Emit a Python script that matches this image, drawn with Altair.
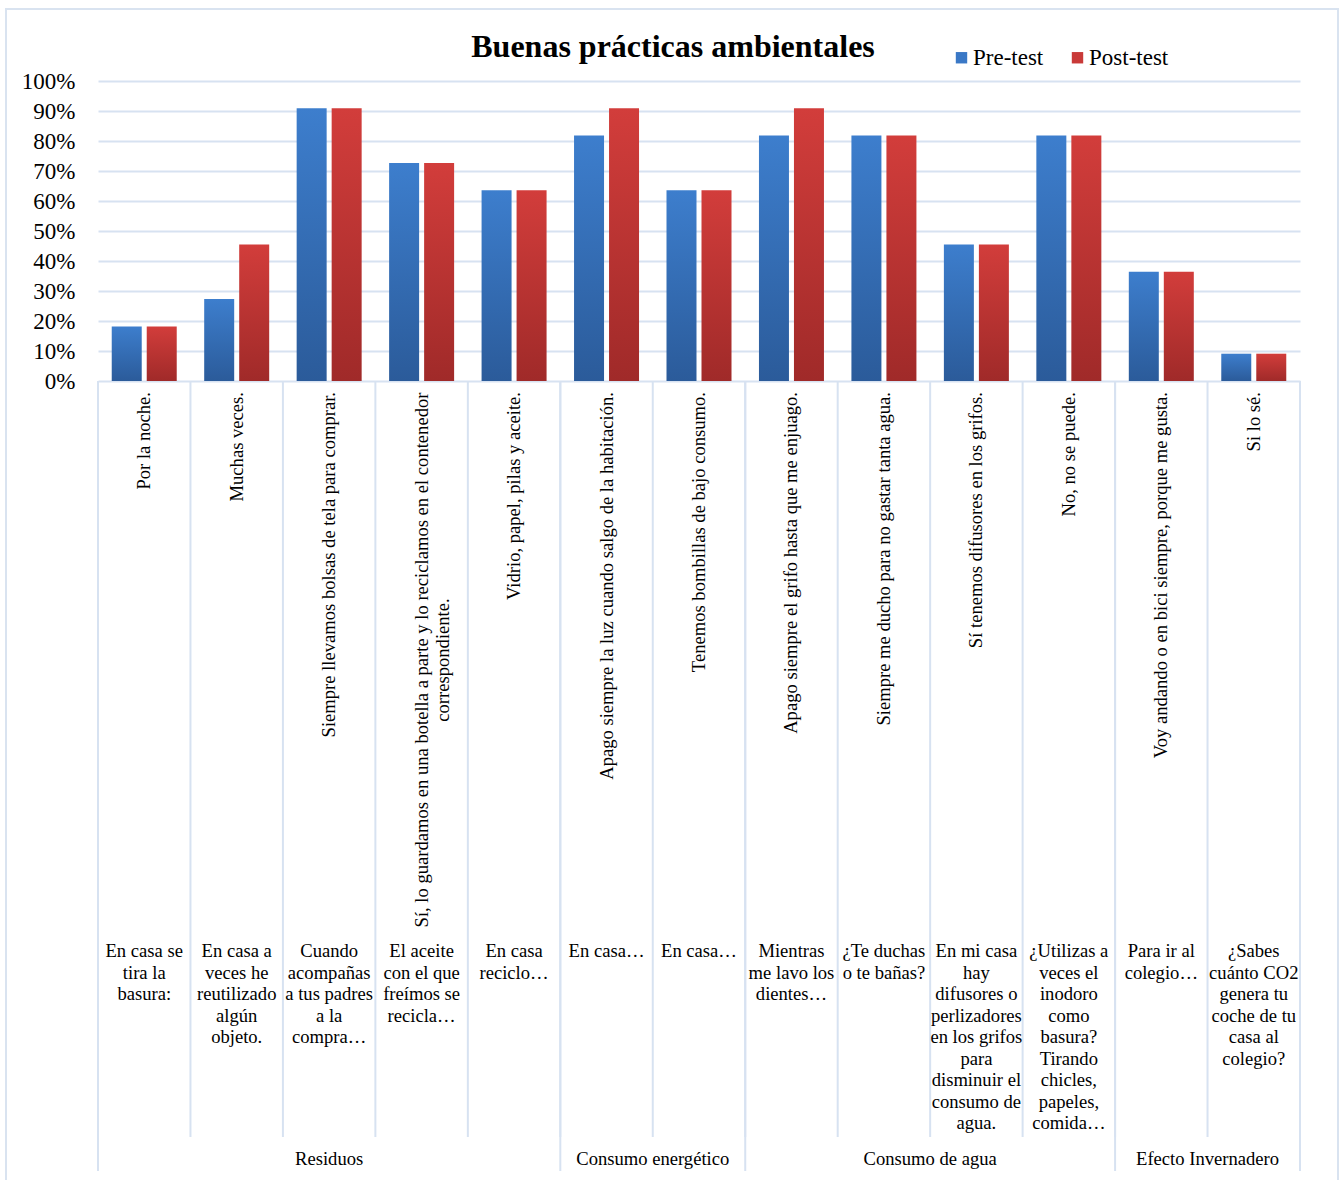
import altair as alt
import pandas as pd

# ---------------- data ----------------
ids = [f"c{i:02d}" for i in range(13)]
groups = ["Residuos"] * 5 + ["Consumo energético"] * 2 + ["Consumo de agua"] * 4 + ["Efecto Invernadero"] * 2
group_order = ["Residuos", "Consumo energético", "Consumo de agua", "Efecto Invernadero"]
questions = [
    "En casa se\ntira la\nbasura:",
    "En casa a\nveces he\nreutilizado\nalgún\nobjeto.",
    "Cuando\nacompañas\na tus padres\na la\ncompra…",
    "El aceite\ncon el que\nfreímos se\nrecicla…",
    "En casa\nreciclo…",
    "En casa…",
    "En casa…",
    "Mientras\nme lavo los\ndientes…",
    "¿Te duchas\no te bañas?",
    "En mi casa\nhay\ndifusores o\nperlizadores\nen los grifos\npara\ndisminuir el\nconsumo de\nagua.",
    "¿Utilizas a\nveces el\ninodoro\ncomo\nbasura?\nTirando\nchicles,\npapeles,\ncomida…",
    "Para ir al\ncolegio…",
    "¿Sabes\ncuánto CO2\ngenera tu\ncoche de tu\ncasa al\ncolegio?",
]
answers = [
    "Por la noche.",
    "Muchas veces.",
    "Siempre llevamos bolsas de tela para comprar.",
    "Sí, lo guardamos en una botella a parte y lo reciclamos en el contenedor\ncorrespondiente.",
    "Vidrio, papel, pilas y aceite.",
    "Apago siempre la luz cuando salgo de la habitación.",
    "Tenemos bombillas de bajo consumo.",
    "Apago siempre el grifo hasta que me enjuago.",
    "Siempre me ducho para no gastar tanta agua.",
    "Sí tenemos difusores en los grifos.",
    "No, no se puede.",
    "Voy andando o en bici siempre, porque me gusta.",
    "Si lo sé.",
]
pre_test = [0.182, 0.273, 0.909, 0.727, 0.636, 0.818, 0.636, 0.818, 0.818, 0.455, 0.818, 0.364, 0.091]
post_test = [0.182, 0.455, 0.909, 0.727, 0.636, 0.909, 0.636, 0.909, 0.818, 0.455, 0.818, 0.364, 0.091]
series = ["Pre-test", "Post-test"]
y_ticks = [0, 0.1, 0.2, 0.3, 0.4, 0.5, 0.6, 0.7, 0.8, 0.9, 1.0]

# ---------------- tables ----------------
n = len(ids)
bars = pd.DataFrame(
    [{"id": ids[i], "serie": series[0], "valor": pre_test[i]} for i in range(n)]
    + [{"id": ids[i], "serie": series[1], "valor": post_test[i]} for i in range(n)]
)
cats = pd.DataFrame({
    "pos": [i + 0.5 for i in range(n)],
    "question": questions,
    "answer": answers,
    "multi": ["\n" in a for a in answers],
})
bounds_inner = pd.DataFrame({"b": list(range(1, n))})
gb = [0]
gmid = []
for g in group_order:
    cnt = groups.count(g)
    gmid.append(gb[-1] + cnt / 2)
    gb.append(gb[-1] + cnt)
bounds_group = pd.DataFrame({"b": gb})
group_lbl = pd.DataFrame({"g": group_order, "mid": gmid})

FONT = "Liberation Serif"
GRID = "#d7e2f1"
FS = 18.6
W, H = 1202, 300


def xq_field(f):
    return alt.X(f"{f}:Q", scale=alt.Scale(domain=[0, n], nice=False, zero=False), axis=None)


xq = xq_field("pos")

blue_grad = alt.Gradient(
    gradient="linear",
    stops=[alt.GradientStop(color="#3d7ecd", offset=0), alt.GradientStop(color="#2b5b9a", offset=1)],
    x1=0, x2=0, y1=0, y2=1,
)
red_grad = alt.Gradient(
    gradient="linear",
    stops=[alt.GradientStop(color="#d23d3b", offset=0), alt.GradientStop(color="#a02a29", offset=1)],
    x1=0, x2=0, y1=0, y2=1,
)

x_band = alt.X("id:N", scale=alt.Scale(domain=ids, paddingInner=0.297, paddingOuter=0.1485), axis=None)
x_off = alt.XOffset("serie:N", scale=alt.Scale(domain=series, paddingInner=0.143, paddingOuter=0))
y_axis = alt.Axis(
    values=y_ticks, format=".0%", title=None, domain=False, ticks=False,
    labelFont=FONT, labelFontSize=23, labelColor="#000000", labelPadding=23,
    gridColor=GRID, gridWidth=2, labelBound=False, labelOverlap=False,
)
y_enc = alt.Y("valor:Q", scale=alt.Scale(domain=[0, 1], nice=False), axis=y_axis)

base_bars = alt.Chart(bars)
pre_layer = base_bars.transform_filter(alt.datum.serie == "Pre-test").mark_bar(color=blue_grad).encode(
    x=x_band, xOffset=x_off, y=y_enc
)
post_layer = base_bars.transform_filter(alt.datum.serie == "Post-test").mark_bar(color=red_grad).encode(
    x=x_band, xOffset=x_off, y=y_enc
)

legend_layer = alt.Chart(pd.DataFrame({"serie": series})).mark_square(opacity=0).encode(
    color=alt.Color(
        "serie:N",
        scale=alt.Scale(domain=series, range=["#3a78c6", "#c93a38"]),
        legend=alt.Legend(
            title=None, orient="none", legendX=852, legendY=-35, direction="horizontal",
            symbolType="square", symbolSize=130, symbolOpacity=1, symbolStrokeWidth=0,
            labelFont=FONT, labelFontSize=23, labelColor="#000000", columnPadding=22,
            labelOffset=0,
        ),
    )
)

inner_rules = alt.Chart(bounds_inner).mark_rule(color=GRID, strokeWidth=2).encode(
    x=xq_field("b"), y=alt.value(H), y2=alt.value(1137 - 81)
)
group_rules = alt.Chart(bounds_group).mark_rule(color=GRID, strokeWidth=2).encode(
    x=xq_field("b"), y=alt.value(H), y2=alt.value(1171 - 81)
)

answer_single = alt.Chart(cats).transform_filter(~alt.datum.multi).mark_text(
    angle=270, align="right", baseline="middle", font=FONT, fontSize=FS, color="#000000"
).encode(x=xq, y=alt.value(392 - 81), text="answer:N")

answer_multi = alt.Chart(cats).transform_filter(alt.datum.multi).mark_text(
    angle=270, align="center", baseline="middle", font=FONT, fontSize=FS, color="#000000",
    lineBreak="\n", lineHeight=21,
).encode(x=xq, y=alt.value(660 - 81), text="answer:N")

question_text = alt.Chart(cats).mark_text(
    align="center", baseline="top", font=FONT, fontSize=FS, color="#000000",
    lineBreak="\n", lineHeight=21.5,
).encode(x=xq, y=alt.value(942 - 81), text="question:N")

group_text = alt.Chart(group_lbl).mark_text(
    align="center", baseline="middle", font=FONT, fontSize=FS, color="#000000"
).encode(x=xq_field("mid"), y=alt.value(1159 - 81), text="g:N")

border = alt.Chart(pd.DataFrame({"k": [0]})).mark_rect(
    fill=None, stroke="#d9e3f0", strokeWidth=2
).encode(x=alt.value(6 - 98), x2=alt.value(1338 - 98), y=alt.value(9 - 81), y2=alt.value(1240 - 81))

chart = alt.layer(
    border, pre_layer, post_layer, legend_layer, inner_rules, group_rules,
    answer_single, answer_multi, question_text, group_text,
).resolve_scale(x="independent").properties(
    width=W, height=H,
    title=alt.TitleParams(
        "Buenas prácticas ambientales", font=FONT, fontSize=32, fontWeight="bold",
        color="#000000", anchor="middle", dx=-26, offset=-56,
    ),
    autosize=alt.AutoSizeParams(type="none"),
    padding={"left": 98, "top": 81, "right": 41, "bottom": 799},
).configure_view(stroke=None)

chart.save("out.html", embed_options={"renderer": "svg", "actions": False})
